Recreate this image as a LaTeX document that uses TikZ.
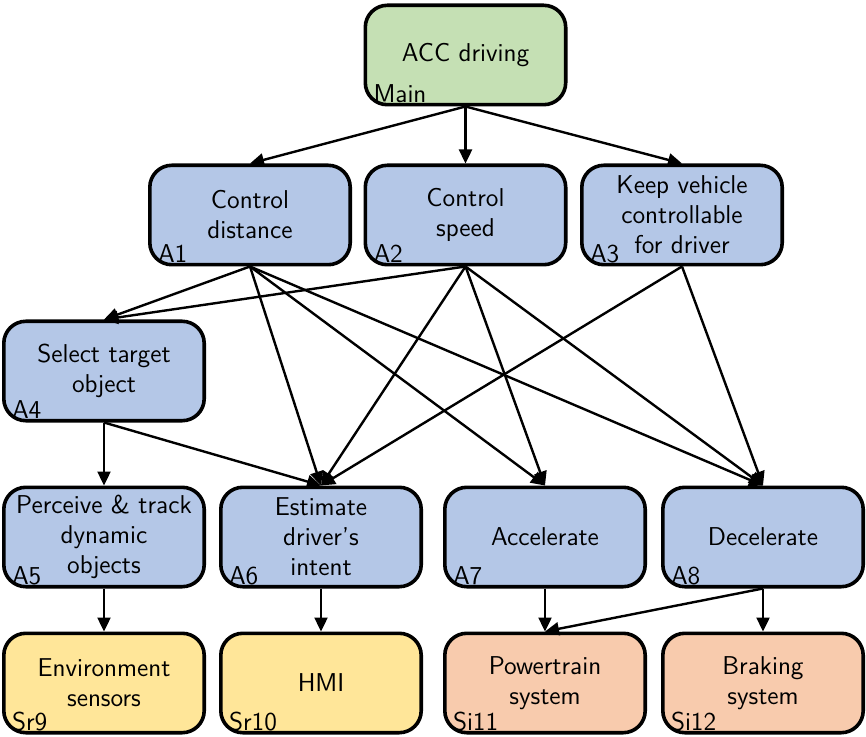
\documentclass[tikz,border=0pt]{standalone}
\usepackage{fontspec}
\usetikzlibrary{arrows.meta}
\definecolor{maingreen}{RGB}{197,224,180}
\definecolor{funcblue}{RGB}{180,199,231}
\definecolor{sensyellow}{RGB}{255,230,153}
\definecolor{actorange}{RGB}{248,203,173}
\begin{document}
\begin{tikzpicture}[x=0.5pt,y=-0.5pt,font=\sffamily\fontsize{12.9}{15}\selectfont]
  \tikzstyle{block}=[draw,line width=1.8pt,rounded corners=11pt,minimum width=100.2pt,minimum height=49.7pt,align=center,inner sep=2pt]
  \tikzstyle{mainblock}=[block,fill=maingreen]
  \tikzstyle{funcblock}=[block,fill=funcblue]
  \tikzstyle{sensblock}=[block,fill=sensyellow]
  \tikzstyle{actblock}=[block,fill=actorange]
  \tikzstyle{tag}=[anchor=base west,inner sep=0pt,xshift=4.8pt,yshift=2pt]
  \tikzstyle{line}=[draw,line width=1.2pt,-{Triangle[length=7pt,width=6.5pt]}]
  \useasboundingbox (0,0) rectangle (866,737);
  % top level
  \node[mainblock] (Main) at (465.5,55)  {ACC driving};
  % functions
  \node[funcblock] (A1) at (250,215)   {Control\\distance};
  \node[funcblock] (A2) at (465.5,215) {Control\\speed};
  \node[funcblock] (A3) at (682,215)   {Keep vehicle\\controllable\\for driver};
  \node[funcblock] (A4) at (104,371)   {Select target\\object};
  \node[funcblock] (A5) at (104,537)   {Perceive \& track\\dynamic\\objects};
  \node[funcblock] (A6) at (321,537)   {Estimate\\driver’s\\intent};
  \node[funcblock] (A7) at (545,537)   {Accelerate};
  \node[funcblock] (A8) at (763,537)   {Decelerate};
  % sensors and actuators
  \node[sensblock] (Sr9)  at (104,683) {Environment\\sensors};
  \node[sensblock] (Sr10) at (321,683) {HMI};
  \node[actblock]  (Si11) at (545,683) {Powertrain\\system};
  \node[actblock]  (Si12) at (763,683) {Braking\\system};
  % ids
  \foreach \n in {Main,A1,A2,A3,A4,A5,A6,A7,A8,Sr9,Sr10,Si11,Si12}
    \node[tag] (t\n) at (\n.south west) {\n};
  % connections
  \foreach \a/\b in {Main/A1,Main/A2,Main/A3,
                     A1/A4,A1/A6,A1/A7,A1/A8,
                     A2/A4,A2/A6,A2/A7,A2/A8,
                     A3/A6,A3/A8,
                     A4/A5,A4/A6,
                     A5/Sr9,A6/Sr10,A7/Si11,A8/Si11,A8/Si12}
    \path[line] (\a.south) -- (\b.north);
\end{tikzpicture}
\end{document}
